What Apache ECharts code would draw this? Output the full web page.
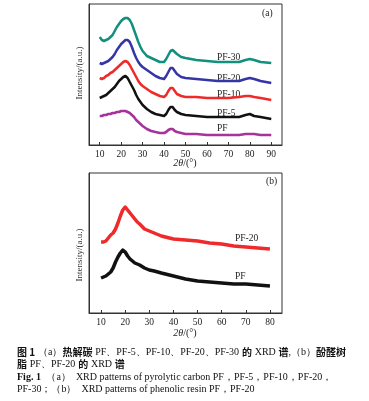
<!DOCTYPE html>
<html><head><meta charset="utf-8">
<script src="https://cdn.jsdelivr.net/npm/echarts@6/dist/echarts.min.js"></script>
<style>html,body{margin:0;padding:0;background:#fff}#c{width:369px;height:401px}</style>
</head><body><div id="c"></div>
<script>
// ---- panel (a): pyrolytic carbon, 2θ (deg) and stacked intensities (a.u.)
const thetaA = [10,11,12,13,14,15,16,17,18,19,20,21,22,23,24,25,26,27,28,29,30,
  32,34,36,38,40,41,42,43,44,45,46,48,50,55,60,65,70,75,78,80,82,85,90];
const pf30 = [108,105,104,105,106,108,110,114,118,121,124,126,127,127,125,121,115,109,103,98,94,
  89,87,85,83,83,86,90,94,95,93,91,88,87,85,84,83,83,83,85,86,85,83,82];
const pf20 = [82,81,82,83,84,86,88,91,95,98,101,103,105,105,103,98,92,87,83,80,78,
  75,72,69,67,66,69,73,77,77,74,71,68,67,66,65,64,64,64,66,67,66,64,62];
const pf10 = [67,66,67,69,70,72,73,75,77,79,81,83,84,83,80,76,72,68,64,61,59,
  56,53,51,49,48,50,54,57,57,54,51,49,48,48,47,47,47,48,49,49,48,47,45];
const pf5 = [47,48,49,50,52,54,56,58,61,64,66,68,69,67,63,59,55,50,46,43,40,
  36,33,31,30,29,31,35,38,38,35,33,31,30,29,28,28,28,28,30,31,29,28,26];
const pfA = [29,29,30,30,31,31,32,32,33,33,34,34,34,33,32,30,28,25,23,21,19,
  16,14,13,12,12,13,15,16,16,14,13,12,11,11,10,10,10,10,11,11,11,10,10];
const ticksA = [10,20,30,40,50,60,70,80,90];
const namesA = ['PF-30','PF-20','PF-10','PF-5','PF'];

// ---- panel (b): phenolic resin
const thetaB = [10,11,12,13,14,15,16,17,18,19,20,21,22,23,24,25,26,
  28,30,32,35,40,45,50,55,60,65,70,75,80];
const resin20 = [71,71,72,75,78,80,84,90,97,103,106,103,100,97,94,91,89,
  84,82,80,77,74,73,72,70,69,67,66,65,64];
const resinPF = [35,36,37,39,41,45,51,56,60,63,61,57,54,52,50,49,48,
  45,43,42,40,37,34,32,31,30,29,29,28,27];
const ticksB = [10,20,30,40,50,60,70,80];
const namesB = ['PF-20','PF'];

const SERIF = '"Liberation Serif","DejaVu Serif",serif';
const CJK = '"Noto Sans CJK SC","Noto Sans CJK JP",sans-serif';
const pair = (xs, ys) => xs.map((x, i) => [x, ys[i]]);

function xAx(gi, min, max, ticks) {
  return {
    gridIndex: gi, type: 'value', min: min, max: max,
    axisLine: {show: true, lineStyle: {color: '#333', width: 1}},
    axisTick: {show: true, inside: true, length: 3, customValues: ticks, lineStyle: {color: '#333'}},
    axisLabel: {customValues: ticks, fontFamily: SERIF, fontSize: 9.5, color: '#222', margin: 4},
    splitLine: {show: false}
  };
}
function yAx(gi, max) {
  return {
    gridIndex: gi, type: 'value', min: 0, max: max,
    axisLine: {show: true, lineStyle: {color: '#333', width: 1}},
    axisTick: {show: false}, axisLabel: {show: false}, splitLine: {show: false}
  };
}
function line(name, gi, xs, ys, color, w) {
  return {
    name: name, type: 'line', xAxisIndex: gi, yAxisIndex: gi,
    data: pair(xs, ys), showSymbol: false, smooth: false,
    lineStyle: {color: color, width: w, join: 'round'}, animation: false
  };
}
function txt(x, y, text, size, extra) {
  return Object.assign({type: 'text', x: x, y: y,
    style: {text: text, fontFamily: SERIF, fontSize: size || 9.5, fill: '#222',
      textAlign: 'left', textVerticalAlign: 'middle'}}, extra || {});
}

const chart = echarts.init(document.getElementById('c'), null, {renderer: 'canvas'});
const colorsA = ['#12907e', '#3535a8', '#ee2a2a', '#111111', '#a6329c'];
const labelYA = [57, 78, 94, 113, 128];
const labelYB = [238, 276];

const graphics = [];
namesA.forEach((n, i) => graphics.push(txt(217, labelYA[i], n)));
namesB.forEach((n, i) => graphics.push(txt(235, labelYB[i], n)));
graphics.push(txt(262, 13, '(a)'));
graphics.push(txt(266, 181, '(b)'));
// y axis titles
[[80, 73], [80, 255]].forEach(p => graphics.push({type: 'text', x: p[0], y: p[1], rotation: Math.PI / 2,
  style: {text: 'Intensity/(a.u.)', fontFamily: SERIF, fontSize: 9, fill: '#333', textAlign: 'center', textVerticalAlign: 'middle'}}));
// x axis titles
[[185, 163], [185, 333]].forEach(p => graphics.push({type: 'text', x: p[0], y: p[1],
  style: {text: '{i|2θ}{n|/(°)}', fontFamily: SERIF, fontSize: 10, fill: '#222', textAlign: 'center', textVerticalAlign: 'middle',
    rich: {i: {fontFamily: SERIF, fontStyle: 'italic', fontSize: 10}, n: {fontFamily: SERIF, fontSize: 10}}}}));

// caption
const capRich = {
  b: {fontFamily: CJK, fontWeight: 'bold', fontSize: 10, fill: '#111'},
  s: {fontFamily: SERIF, fontSize: 10, fill: '#111'},
  sb: {fontFamily: SERIF, fontWeight: 'bold', fontSize: 10, fill: '#111'}
};
const capLines = [
  [352, '{b|图 1} {s|（a）}{b|热解碳} {s|PF、PF-5、PF-10、PF-20、PF-30} {b|的} {s|XRD} {b|谱}{s|,（b）}{b|酚醛树}'],
  [364, '{b|脂} {s|PF、PF-20} {b|的} {s|XRD} {b|谱}'],
  [377, '{sb|Fig. 1}  {s|（a）  XRD patterns of pyrolytic carbon PF，PF-5，PF-10，PF-20，}'],
  [389, '{s|PF-30；（b）  XRD patterns of phenolic resin PF，PF-20}']
];
capLines.forEach(l => graphics.push({type: 'text', x: 17, y: l[0],
  style: {text: l[1], rich: capRich, fontSize: 10, textAlign: 'left', textVerticalAlign: 'middle'}}));

chart.setOption({
  animation: false,
  backgroundColor: '#fff',
  grid: [
    {left: 89, top: 4, width: 193, height: 141, show: true, borderColor: '#333', borderWidth: 1},
    {left: 89, top: 173, width: 193, height: 140, show: true, borderColor: '#333', borderWidth: 1}
  ],
  xAxis: [xAx(0, 5, 95, ticksA), xAx(1, 5, 85, ticksB)],
  yAxis: [yAx(0, 141), yAx(1, 140)],
  series: [
    line(namesA[4], 0, thetaA, pfA, colorsA[4], 2.5),
    line(namesA[3], 0, thetaA, pf5, colorsA[3], 2.5),
    line(namesA[2], 0, thetaA, pf10, colorsA[2], 2.5),
    line(namesA[1], 0, thetaA, pf20, colorsA[1], 2.5),
    line(namesA[0], 0, thetaA, pf30, colorsA[0], 2.5),
    line(namesB[1], 1, thetaB, resinPF, '#111111', 3.5),
    line(namesB[0], 1, thetaB, resin20, '#ee2a2a', 3.5)
  ],
  graphic: graphics
});
</script></body></html>
